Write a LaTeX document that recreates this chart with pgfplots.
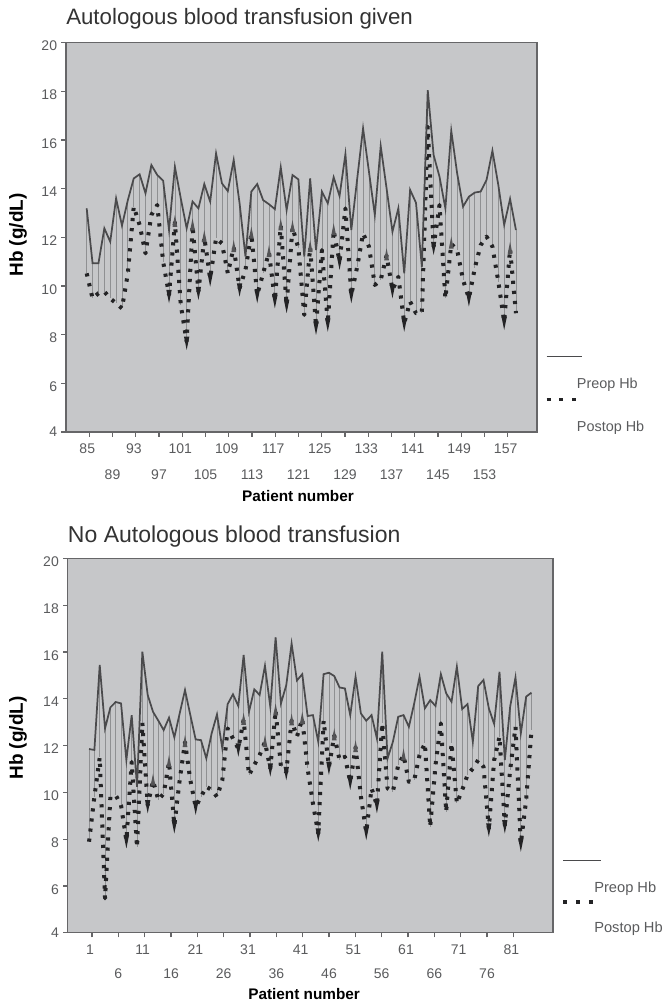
\documentclass[border=0pt]{standalone}
\usepackage{fontspec}
\setmainfont{Liberation Sans}
\usepackage{pgfplots}
\usepackage{pgfplotstable}
\pgfplotsset{compat=1.18}
\definecolor{panel}{HTML}{C6C7C9}
\definecolor{ticktxt}{HTML}{5A5B5D}
\definecolor{axln}{HTML}{666668}
\definecolor{preln}{HTML}{4A4A4C}
\definecolor{postln}{HTML}{232325}
\definecolor{hilo}{HTML}{8F9092}
\pgfdeclareplotmark{spikedown}{\pgfpathmoveto{\pgfqpoint{-2pt}{10pt}}\pgfpathlineto{\pgfqpoint{2pt}{10pt}}\pgfpathlineto{\pgfqpoint{0pt}{0pt}}\pgfpathclose\pgfusepathqfill}
\pgfdeclareplotmark{spikeup}{\pgfpathmoveto{\pgfqpoint{-1.8pt}{-9pt}}\pgfpathlineto{\pgfqpoint{1.8pt}{-9pt}}\pgfpathlineto{\pgfqpoint{0pt}{0pt}}\pgfpathclose\pgfusepathqfill}
\pgfplotstableread{
i pre post
0 13.19 10.52
1 10.93 9.49
2 10.93 9.70
3 12.37 9.77
4 11.82 9.49
5 13.60 9.29
6 12.48 9.08
7 13.53 10.52
8 14.42 13.26
9 14.59 12.51
10 13.81 11.34
11 14.97 12.92
12 14.56 13.33
13 14.33 11.00
14 12.30 9.64
15 14.90 12.62
16 13.60 9.22
17 12.37 7.72
18 13.47 12.48
19 13.19 9.77
20 14.19 12.00
21 13.47 10.32
22 15.45 11.96
23 14.22 11.75
24 13.90 10.52
25 15.18 11.59
26 13.40 9.91
27 11.21 10.66
28 13.88 12.14
29 14.19 9.64
30 13.53 10.52
31 13.36 11.38
32 13.16 9.43
33 14.88 12.48
34 13.12 9.23
35 14.56 12.41
36 14.38 11.55
37 11.21 8.81
38 14.42 11.59
39 11.48 8.34
40 13.88 11.48
41 13.40 8.47
42 14.47 12.28
43 13.70 11.01
44 15.42 13.19
45 12.30 9.64
46 14.40 10.79
47 16.48 12.16
48 14.70 11.62
49 12.92 10.04
50 15.75 10.25
51 14.01 11.25
52 12.23 9.84
53 13.19 10.38
54 10.52 8.47
55 13.95 9.36
56 13.42 8.88
57 10.79 8.88
58 18.05 16.55
59 15.38 11.62
60 14.49 13.33
61 13.19 9.49
62 16.38 11.73
63 14.63 11.48
64 13.26 10.25
65 13.67 9.50
66 13.84 10.73
67 13.88 11.68
68 14.36 12.03
69 15.56 11.62
70 14.15 10.18
71 12.51 8.54
72 13.58 11.52
73 12.30 8.88
}\tableA
\pgfplotstableread{
i pre post
0 11.85 7.89
1 11.81 9.81
2 15.44 11.49
3 12.73 5.47
4 13.63 9.81
5 13.86 9.88
6 13.80 9.45
7 11.38 7.95
8 13.30 11.30
9 10.24 7.65
10 16.01 12.97
11 14.16 9.45
12 13.44 10.50
13 13.06 9.67
14 12.66 9.95
15 13.19 11.29
16 12.35 8.59
17 13.37 10.52
18 14.37 12.15
19 13.30 10.52
20 12.26 9.38
21 12.23 9.81
22 11.45 10.24
23 12.52 10.10
24 13.33 9.81
25 11.88 10.52
26 13.77 12.73
27 14.19 12.30
28 13.69 11.87
29 15.87 13.10
30 13.44 10.74
31 14.40 11.17
32 14.16 11.59
33 15.41 12.15
34 13.66 11.02
35 16.62 13.50
36 13.80 11.09
37 14.58 10.87
38 16.36 13.07
39 14.78 12.38
40 15.05 13.14
41 13.26 11.02
42 13.30 9.53
43 12.16 8.24
44 15.05 13.06
45 15.11 11.09
46 14.97 12.43
47 14.48 11.38
48 14.44 11.52
49 13.30 10.45
50 14.94 11.93
51 13.37 9.81
52 13.06 8.31
53 13.30 10.17
54 12.30 9.45
55 16.01 12.95
56 11.45 10.17
57 12.16 10.03
58 13.23 11.17
59 13.30 11.58
60 12.80 10.45
61 13.80 10.52
62 14.94 11.59
63 13.59 12.09
64 13.94 8.53
65 13.69 11.17
66 15.05 12.95
67 14.23 9.17
68 13.87 12.09
69 15.37 9.53
70 13.56 10.10
71 13.77 10.74
72 12.16 11.02
73 14.54 11.38
74 14.80 11.09
75 13.59 8.45
76 12.92 11.38
77 15.15 12.38
78 11.38 8.59
79 13.66 10.95
80 14.91 12.80
81 12.52 7.81
82 14.09 9.67
83 14.26 12.66
}\tableB
\pgfplotstableread{
i y
14 9.29
17 7.37
19 9.42
21 9.97
26 9.56
29 9.29
32 9.08
34 8.88
39 7.99
41 8.12
43 10.66
45 9.29
52 9.49
54 8.12
59 11.27
65 9.15
71 8.19
}\downA
\pgfplotstableread{
i y
15 12.92
18 12.78
20 12.30
25 11.89
28 12.44
31 11.68
33 12.78
35 12.71
38 11.89
42 12.58
51 11.55
62 12.03
72 11.82
}\upA
\pgfplotstableread{
i y
7 7.60
11 9.10
16 8.24
20 9.03
28 11.52
34 10.67
37 10.52
43 7.89
45 10.74
49 10.10
52 7.96
54 9.10
75 8.10
78 8.24
81 7.46
}\downB
\pgfplotstableread{
i y
12 10.80
15 11.59
18 12.45
29 13.40
33 12.45
35 13.80
38 13.37
40 13.44
46 12.73
50 12.23
59 11.88
}\upB
\pgfplotsset{
  hbaxis/.style={
    scale only axis,
    axis background/.style={fill=panel},
    axis line style={axln,line width=1.1pt},
    tick style={axln,line width=0.9pt},
    tick align=outside,
    major tick length=3.5pt,
    xtick pos=bottom,
    ytick pos=left,
    ymin=4,ymax=20,
    ytick={4,6,8,10,12,14,16,18,20},
    yticklabels={\raisebox{5.5pt}{4},6,8,10,12,14,16,18,20},
    tick label style={font=\fontsize{10.5}{12}\selectfont,text=ticktxt},
    yticklabel style={yshift=-2.5pt,inner sep=0pt,xshift=-3pt},
    title style={text=black!80,anchor=west,inner sep=0pt,yshift=0pt},
    xlabel style={font=\bfseries\fontsize{11.5}{13}\selectfont,text=black,inner sep=0pt,anchor=center},
    ylabel style={font=\bfseries\fontsize{14.2}{16}\selectfont,text=black,inner sep=0pt,anchor=center,rotate=0},
  },
  hilostyle/.style={draw=none,mark=none,forget plot,
    error bars/.cd,y dir=minus,y explicit,error mark=none,
    error bar style={hilo,line width=0.6pt}},
  postyle/.style={postln,mark=none,line width=3pt,line join=round,dash pattern=on 2.4pt off 5.2pt},
  prestyle/.style={preln,mark=none,line width=1.3pt,line join=miter},
  sdown/.style={only marks,mark=spikedown,mark options={fill=postln,draw=none},forget plot},
  sup/.style={only marks,mark=spikeup,mark options={fill=postln!70!panel,draw=none},forget plot},
}
\begin{document}
\begin{tikzpicture}[x=1pt,y=1pt]
\path[use as bounding box] (0,0) rectangle (497.25,752.25);
\begin{axis}[hbaxis,
  at={(49.5pt,428.25pt)},anchor=south west,
  width=353.25pt,height=292pt,
  xmin=-3.52,xmax=76.58,
  xtick={0.44,8.35,16.25,24.16,32.06,39.97,47.87,55.78,63.68,71.59},
  xticklabels={85,93,101,109,117,125,133,141,149,157},
  xticklabel style={text height=7.5pt,text depth=0pt,xshift=-1.5pt,yshift=-1.5pt},
  extra x ticks={4.39,12.30,20.21,28.11,36.02,43.92,51.83,59.73,67.64},
  extra x tick labels={89,97,105,113,121,129,137,145,153},
  extra x tick style={xticklabel style={text height=7.5pt,text depth=0pt,xshift=1.5pt,yshift=-19.5pt}},
  title={Autologous blood transfusion given},
  title style={at={(axis description cs:0,1.041)},font=\fontsize{16.7}{19}\selectfont},
  xlabel={Patient number},
  xlabel style={at={(axis description cs:0.4926,-0.1645)}},
  ylabel={Hb (g/dL)},
  ylabel style={at={(axis description cs:-0.102,0.506)}},
]
\addplot[hilostyle] table[x=i,y=pre,y error expr=\thisrow{pre}-\thisrow{post}] {\tableA};
\addplot[postyle] table[x=i,y=post] {\tableA};
\addplot[sdown] table[x=i,y=y] {\downA};
\addplot[sup] table[x=i,y=y] {\upA};
\addplot[prestyle] table[x=i,y=pre] {\tableA};
\end{axis}
\begin{axis}[hbaxis,
  at={(50.8pt,52.7pt)},anchor=south west,
  width=364pt,height=280.8pt,
  xmin=-4,xmax=87.05,
  xtick={0.56,10.44,20.32,30.2,40.08,49.96,59.84,69.72,79.6},
  xticklabels={1,11,21,31,41,51,61,71,81},
  xticklabel style={text height=7.5pt,text depth=0pt,xshift=-1.5pt,yshift=-1.5pt},
  extra x ticks={5.5,15.38,25.26,35.14,45.02,54.9,64.78,74.66},
  extra x tick labels={6,16,26,36,46,56,66,76},
  extra x tick style={xticklabel style={text height=7.5pt,text depth=0pt,xshift=1.5pt,yshift=-18.5pt}},
  title={No Autologous blood transfusion},
  title style={at={(axis description cs:0,1.038)},font=\fontsize{17.25}{20}\selectfont},
  xlabel={Patient number},
  xlabel style={at={(axis description cs:0.487,-0.164)}},
  ylabel={Hb (g/dL)},
  ylabel style={at={(axis description cs:-0.1024,0.52)}},
]
\addplot[hilostyle] table[x=i,y=pre,y error expr=\thisrow{pre}-\thisrow{post}] {\tableB};
\addplot[postyle] table[x=i,y=post] {\tableB};
\addplot[sdown] table[x=i,y=y] {\downB};
\addplot[sup] table[x=i,y=y] {\upB};
\addplot[prestyle] table[x=i,y=pre] {\tableB};
\end{axis}
% legends
\draw[preln,line width=0.9pt] (410,484.8) -- (436.5,484.8);
\draw[postln,line width=2.7pt,dash pattern=on 3pt off 6.6pt] (410,452.5) -- (436.5,452.5);
\node[anchor=west,inner sep=0pt,font=\fontsize{10.8}{12}\selectfont,text=ticktxt] at (432.5,463.5) {Preop Hb};
\node[anchor=west,inner sep=0pt,font=\fontsize{10.8}{12}\selectfont,text=ticktxt] at (432.5,431.2) {Postop Hb};
\draw[preln,line width=0.9pt] (422.5,106.7) -- (450.5,106.7);
\draw[postln,line width=2.7pt,dash pattern=on 3pt off 6.6pt] (422.5,75.7) -- (450.5,75.7);
\node[anchor=west,inner sep=0pt,font=\fontsize{11}{12}\selectfont,text=ticktxt] at (445.5,86) {Preop Hb};
\node[anchor=west,inner sep=0pt,font=\fontsize{11}{12}\selectfont,text=ticktxt] at (445.5,55.5) {Postop Hb};
\end{tikzpicture}
\end{document}
